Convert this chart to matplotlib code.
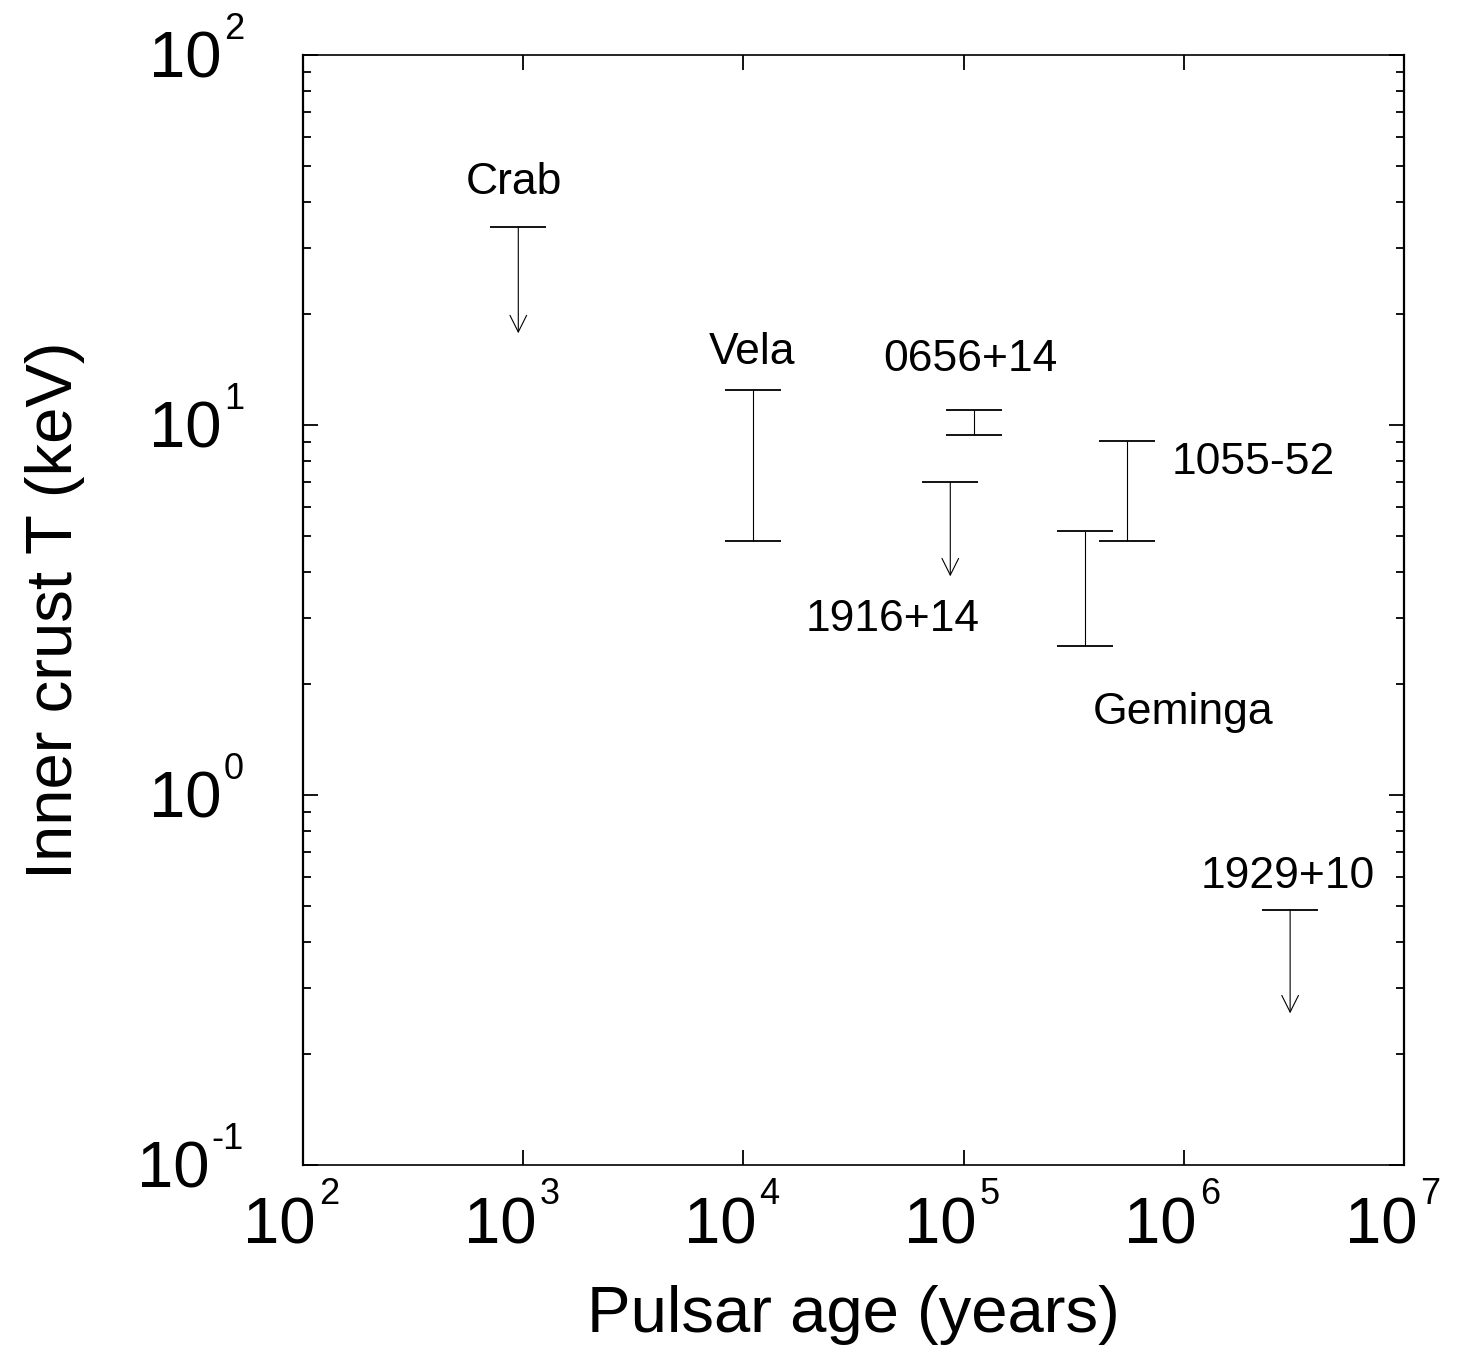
import matplotlib
matplotlib.use("Agg")
import matplotlib.pyplot as plt
from matplotlib.ticker import LogLocator, NullLocator, NullFormatter

plt.rcParams["font.family"] = ["Liberation Sans", "DejaVu Sans"]

# ── data ─────────────────────────────────────────────────────────────────────
# pulsars with a measured temperature range (age in years, T in keV)
range_names = ["Vela", "0656+14", "Geminga", "1055-52"]
range_age = [1.1e4, 1.11e5, 3.56e5, 5.5e5]
range_lo = [4.86, 9.4, 2.53, 4.86]
range_hi = [12.4, 11.0, 5.17, 9.05]

# pulsars with only an upper limit (cap value, arrow tip)
limit_names = ["Crab", "1916+14", "1929+10"]
limit_age = [950, 8.7e4, 3.04e6]
limit_hi = [34.3, 7.0, 0.489]
limit_tip = [17.7, 3.9, 0.257]

# label placement (data coords)
label_text = ["Crab", "Vela", "0656+14", "1055-52", "1916+14", "Geminga", "1929+10"]
label_x = [908, 1.094e4, 1.07e5, 2.06e6, 4.78e4, 9.9e5, 2.97e6]
label_y = [45.1, 15.7, 15.0, 7.94, 2.99, 1.67, 0.604]

x_decades = [2, 3, 4, 5, 6, 7]
y_decades = [-1, 0, 1, 2]

BIG = 47     # "10" and axis titles
SUP = 26     # exponent

fig = plt.figure(figsize=(14.61, 13.53), dpi=100)
W, H = 1461, 1353
ax = fig.add_axes([303 / W, 1 - 1165 / H, 1101 / W, 1110 / H])
ax.set_xscale("log")
ax.set_yscale("log")
ax.set_xlim(1e2, 1e7)
ax.set_ylim(1e-1, 1e2)

# ── range bars ────────────────────────────────────────────────────────────────
for x, lo, hi in zip(range_age, range_lo, range_hi):
    ax.vlines(x, lo, hi, color="black", lw=0.8)
    ax.plot([x, x], [lo, hi], ls="none", marker="_", ms=40, mew=1.3, color="black")

# ── upper limits ──────────────────────────────────────────────────────────────
for x, hi, tip in zip(limit_age, limit_hi, limit_tip):
    ax.plot([x], [hi], ls="none", marker="_", ms=40, mew=1.3, color="black")
    ax.annotate("", xy=(x, tip), xytext=(x, hi),
                arrowprops=dict(arrowstyle="->,head_length=0.6,head_width=0.3",
                                mutation_scale=20, lw=0.8, color="black",
                                shrinkA=0, shrinkB=0))

for t, x, y in zip(label_text, label_x, label_y):
    ax.text(x, y, t, fontsize=32, ha="center", va="center")

# ── axes styling ──────────────────────────────────────────────────────────────
ax.xaxis.set_major_locator(LogLocator(base=10, numticks=10))
ax.xaxis.set_minor_locator(NullLocator())
ax.yaxis.set_major_locator(LogLocator(base=10, numticks=10))
ax.yaxis.set_minor_locator(LogLocator(base=10, subs=range(2, 10), numticks=10))
ax.xaxis.set_major_formatter(NullFormatter())
ax.yaxis.set_major_formatter(NullFormatter())
ax.yaxis.set_minor_formatter(NullFormatter())

ax.tick_params(which="both", direction="in", top=True, right=True, width=1.3)
ax.tick_params(which="major", length=11)
ax.tick_params(which="minor", length=6)
for side in ["left", "right"]:
    ax.spines[side].set_linewidth(1.6)
for side in ["top", "bottom"]:
    ax.spines[side].set_linewidth(1.2)

# tick labels as "10" plus a small exponent (offsets in pixels)
xtr = ax.get_xaxis_transform()
for d in x_decades:
    ax.annotate("10", xy=(10.0 ** d, 0), xycoords=xtr,
                xytext=(13, -79), textcoords="offset pixels",
                ha="right", va="baseline", fontsize=BIG)
    ax.annotate(str(d), xy=(10.0 ** d, 0), xycoords=xtr,
                xytext=(16, -39), textcoords="offset pixels",
                ha="left", va="baseline", fontsize=SUP)

ytr = ax.get_yaxis_transform()
for d in y_decades:
    sup = ax.annotate(str(d), xy=(0, 10.0 ** d), xycoords=ytr,
                      xytext=(-59, 16), textcoords="offset pixels",
                      ha="right", va="baseline", fontsize=SUP)
    ax.annotate("10", xy=(0, 10.0 ** d), xycoords=(sup, ytr),
                xytext=(-2, -23), textcoords="offset pixels",
                ha="right", va="baseline", fontsize=BIG)

ax.set_xlabel("Pulsar age (years)", fontsize=BIG)
ax.xaxis.label.set_va("baseline")
ax.xaxis.set_label_coords(0.5, (1165 - 1332) / 1110)
ax.set_ylabel("Inner crust T (keV)", fontsize=BIG)
ax.yaxis.label.set_va("baseline")
ax.yaxis.set_label_coords((72 - 303) / 1101, 0.5)

fig.savefig("out.png", dpi=100)
